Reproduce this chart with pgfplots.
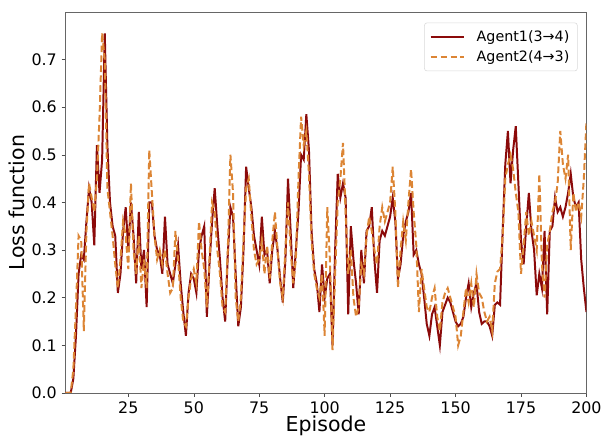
\documentclass[border=0pt]{standalone}
\usepackage{pgfplots}
\pgfplotsset{compat=1.18}
\usepackage{fontspec}
\setmainfont{DejaVu Sans}
\definecolor{agentone}{HTML}{8B0A0A}
\definecolor{agenttwo}{HTML}{DC8535}
\begin{document}
\begin{tikzpicture}
\begin{axis}[
    scale only axis,
    width=393.75pt, height=288pt,
    xmin=1, xmax=200, ymin=0, ymax=0.8,
    xtick={25,50,...,200},
    ytick={0,0.1,...,0.7},
    yticklabel style={/pgf/number format/.cd, fixed, fixed zerofill, precision=1},
    /pgf/number format/assume math mode=true,
    tick align=outside, tick pos=left,
    major tick length=3pt,
    axis line style={black!60},
    every tick/.style={black!70},
    ticklabel style={font=\fontsize{12}{14}\selectfont},
    label style={font=\fontsize{15.5}{18}\selectfont},
    xlabel={Episode}, ylabel={Loss function},
    xlabel style={yshift=5pt},
    ylabel style={yshift=-2pt},
    legend style={at={(rel axis cs:0.983,0.972)}, anchor=north east,
        draw=black!15, rounded corners=2pt, font=\fontsize{10.8}{13}\selectfont,
        row sep=1pt, inner sep=4pt},
    legend cell align=left,
    legend image code/.code={\draw[#1] (0pt,0pt) -- (25pt,0pt);},
]
\addplot[agentone, line width=1.5pt] coordinates {
(1,0) (2,0) (3,0) (4,0.03) (5,0.12) (6,0.25) (7,0.29) (8,0.28) (9,0.36) (10,0.43)
(11,0.40) (12,0.31) (13,0.52) (14,0.42) (15,0.49) (16,0.755) (17,0.52) (18,0.40) (19,0.35) (20,0.33)
(21,0.21) (22,0.25) (23,0.34) (24,0.39) (25,0.30) (26,0.40) (27,0.33) (28,0.23) (29,0.38) (30,0.26)
(31,0.30) (32,0.18) (33,0.40) (34,0.40) (35,0.33) (36,0.30) (37,0.29) (38,0.25) (39,0.37) (40,0.27)
(41,0.25) (42,0.23) (43,0.27) (44,0.31) (45,0.23) (46,0.17) (47,0.12) (48,0.21) (49,0.25) (50,0.24)
(51,0.21) (52,0.30) (53,0.33) (54,0.35) (55,0.16) (56,0.27) (57,0.36) (58,0.43) (59,0.35) (60,0.28)
(61,0.20) (62,0.15) (63,0.29) (64,0.39) (65,0.37) (66,0.25) (67,0.14) (68,0.18) (69,0.30) (70,0.475)
(71,0.43) (72,0.39) (73,0.33) (74,0.30) (75,0.27) (76,0.37) (77,0.29) (78,0.30) (79,0.23) (80,0.30)
(81,0.34) (82,0.30) (83,0.24) (84,0.19) (85,0.28) (86,0.45) (87,0.34) (88,0.22) (89,0.30) (90,0.38)
(91,0.50) (92,0.49) (93,0.585) (94,0.51) (95,0.34) (96,0.26) (97,0.23) (98,0.17) (99,0.27) (100,0.20)
(101,0.24) (102,0.25) (103,0.10) (104,0.30) (105,0.46) (106,0.41) (107,0.44) (108,0.41) (109,0.165) (110,0.35)
(111,0.28) (112,0.23) (113,0.165) (114,0.30) (115,0.23) (116,0.34) (117,0.35) (118,0.39) (119,0.28) (120,0.21)
(121,0.32) (122,0.34) (123,0.33) (124,0.35) (125,0.37) (126,0.41) (127,0.36) (128,0.24) (129,0.27) (130,0.33)
(131,0.36) (132,0.38) (133,0.42) (134,0.29) (135,0.30) (136,0.27) (137,0.25) (138,0.20) (139,0.145) (140,0.12)
(141,0.165) (142,0.18) (143,0.14) (144,0.10) (145,0.17) (146,0.185) (147,0.20) (148,0.19) (149,0.17) (150,0.15)
(151,0.14) (152,0.145) (153,0.16) (154,0.20) (155,0.23) (156,0.18) (157,0.21) (158,0.23) (159,0.17) (160,0.145)
(161,0.15) (162,0.15) (163,0.14) (164,0.12) (165,0.185) (166,0.19) (167,0.185) (168,0.34) (169,0.48) (170,0.55)
(171,0.44) (172,0.51) (173,0.56) (174,0.44) (175,0.32) (176,0.27) (177,0.35) (178,0.42) (179,0.34) (180,0.30)
(181,0.205) (182,0.25) (183,0.22) (184,0.34) (185,0.165) (186,0.34) (187,0.35) (188,0.41) (189,0.38) (190,0.39)
(191,0.37) (192,0.39) (193,0.42) (194,0.46) (195,0.41) (196,0.39) (197,0.40) (198,0.28) (199,0.22) (200,0.17)
};
\addlegendentry{\hspace{7pt}Agent1(3→4)}
\addplot[agenttwo, line width=1.5pt, dash pattern=on 5pt off 2.5pt] coordinates {
(1,0) (2,0) (3,0) (4,0.05) (5,0.18) (6,0.33) (7,0.32) (8,0.13) (9,0.34) (10,0.44)
(11,0.41) (12,0.38) (13,0.45) (14,0.58) (15,0.756) (16,0.70) (17,0.43) (18,0.38) (19,0.33) (20,0.27)
(21,0.22) (22,0.28) (23,0.36) (24,0.33) (25,0.26) (26,0.44) (27,0.30) (28,0.25) (29,0.33) (30,0.22)
(31,0.28) (32,0.22) (33,0.51) (34,0.42) (35,0.33) (36,0.28) (37,0.30) (38,0.27) (39,0.30) (40,0.25)
(41,0.21) (42,0.22) (43,0.34) (44,0.28) (45,0.20) (46,0.15) (47,0.14) (48,0.20) (49,0.24) (50,0.26)
(51,0.23) (52,0.36) (53,0.30) (54,0.26) (55,0.18) (56,0.28) (57,0.40) (58,0.38) (59,0.30) (60,0.25)
(61,0.18) (62,0.17) (63,0.30) (64,0.50) (65,0.42) (66,0.20) (67,0.15) (68,0.20) (69,0.32) (70,0.43)
(71,0.45) (72,0.37) (73,0.30) (74,0.27) (75,0.28) (76,0.32) (77,0.25) (78,0.31) (79,0.24) (80,0.32)
(81,0.38) (82,0.30) (83,0.23) (84,0.20) (85,0.30) (86,0.40) (87,0.30) (88,0.23) (89,0.28) (90,0.45)
(91,0.58) (92,0.52) (93,0.55) (94,0.46) (95,0.32) (96,0.25) (97,0.22) (98,0.20) (99,0.25) (100,0.12)
(101,0.39) (102,0.28) (103,0.09) (104,0.25) (105,0.40) (106,0.45) (107,0.525) (108,0.38) (109,0.25) (110,0.30)
(111,0.20) (112,0.16) (113,0.18) (114,0.27) (115,0.25) (116,0.33) (117,0.37) (118,0.34) (119,0.30) (120,0.27)
(121,0.35) (122,0.39) (123,0.36) (124,0.38) (125,0.40) (126,0.475) (127,0.38) (128,0.22) (129,0.30) (130,0.36)
(131,0.32) (132,0.40) (133,0.47) (134,0.38) (135,0.31) (136,0.17) (137,0.26) (138,0.22) (139,0.18) (140,0.17)
(141,0.20) (142,0.22) (143,0.16) (144,0.13) (145,0.19) (146,0.21) (147,0.22) (148,0.20) (149,0.18) (150,0.16)
(151,0.10) (152,0.12) (153,0.17) (154,0.22) (155,0.19) (156,0.23) (157,0.18) (158,0.25) (159,0.21) (160,0.20)
(161,0.17) (162,0.15) (163,0.16) (164,0.13) (165,0.23) (166,0.255) (167,0.26) (168,0.33) (169,0.45) (170,0.48)
(171,0.50) (172,0.47) (173,0.42) (174,0.38) (175,0.25) (176,0.31) (177,0.38) (178,0.33) (179,0.36) (180,0.33)
(181,0.30) (182,0.46) (183,0.27) (184,0.20) (185,0.31) (186,0.34) (187,0.38) (188,0.40) (189,0.44) (190,0.55)
(191,0.48) (192,0.45) (193,0.50) (194,0.30) (195,0.42) (196,0.38) (197,0.40) (198,0.37) (199,0.45) (200,0.57)
};
\addlegendentry{\hspace{7pt}Agent2(4→3)}
\end{axis}
\path ([shift={(-49.5pt,-30.75pt)}]current axis.south west) rectangle ([shift={(11.25pt,9pt)}]current axis.north east);
\end{tikzpicture}
\end{document}
